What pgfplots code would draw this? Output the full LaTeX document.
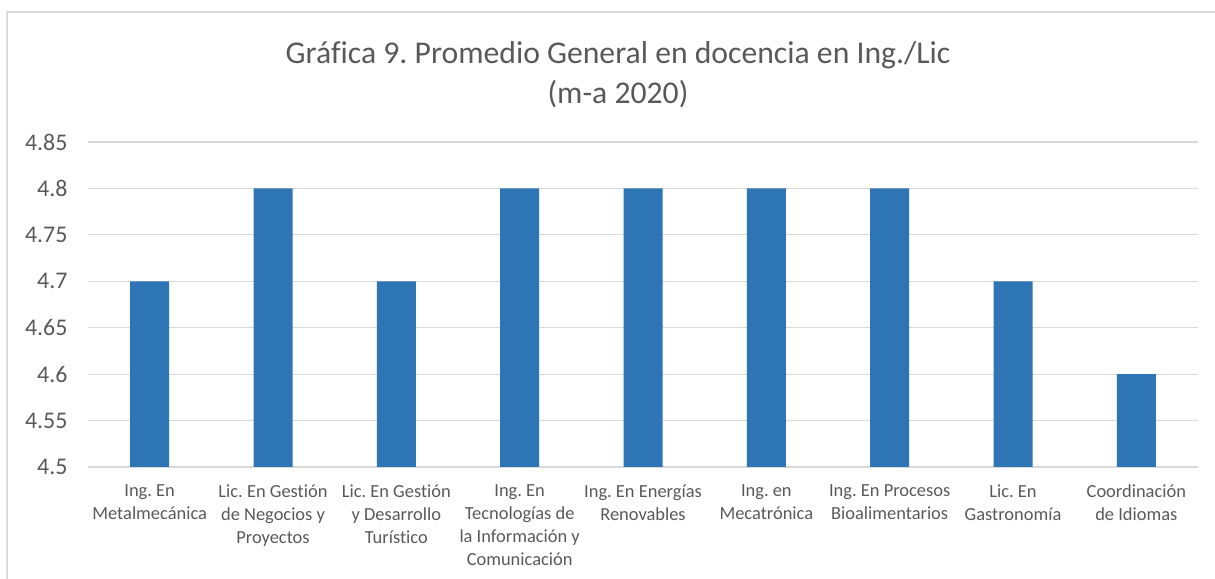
\documentclass[border=0pt]{standalone}
\usepackage{fontspec}
\setmainfont{Carlito}[Ligatures=NoCommon]
\usepackage{pgfplots}
\pgfplotsset{compat=1.18}
\definecolor{barblue}{HTML}{2E75B6}
\definecolor{txtgray}{HTML}{595959}
\definecolor{gridgray}{HTML}{D9D9D9}
\frenchspacing
\begin{document}
\begin{tikzpicture}[x=1bp,y=1bp]
\useasboundingbox (0,0) rectangle (1215,579);
\draw[gridgray, line width=1.2bp] (7,-5) -- (7,567) -- (1220,567);
\node[txtgray, font=\fontsize{31.8}{40}\selectfont, align=center] at (618,504) {Gráfica 9. Promedio General en docencia en Ing./Lic\\(m-a 2020)};
\begin{axis}[
  at={(88bp,112bp)}, anchor=south west,
  scale only axis, width=1110bp, height=325bp,
  xmin=-0.5, xmax=8.5, ymin=4.5, ymax=4.85,
  ybar, bar width=39bp,
  ytick={4.5,4.55,4.6,4.65,4.7,4.75,4.8,4.85},
  yticklabels={4.5,4.55,4.6,4.65,4.7,4.75,4.8,4.85},
  xtick=data,
  xticklabels={{Ing. En\\Metalmecánica},{Lic. En Gestión\\de Negocios y\\Proyectos},{Lic. En Gestión\\y Desarrollo\\Turístico},{Ing. En\\Tecnologías de\\la Información y\\Comunicación},{Ing. En Energías\\Renovables},{Ing. en\\Mecatrónica},{Ing. En Procesos\\Bioalimentarios},{Lic. En\\Gastronomía},{Coordinación\\de Idiomas}},
  x tick label style={align=center, font=\fontsize{18.5}{23}\selectfont, text=txtgray, yshift=-14bp},
  y tick label style={font=\fontsize{24}{26}\selectfont, text=txtgray, xshift=-17bp},
  /pgf/number format/assume math mode=true,
  axis line style={draw=none},
  ymajorgrids, grid style={gridgray, line width=1.2bp},
  major tick length=0pt,
  clip=false,
]
\addplot[fill=barblue, draw=none] coordinates {(0,4.7) (1,4.8) (2,4.7) (3,4.8) (4,4.8) (5,4.8) (6,4.8) (7,4.7) (8,4.6)};
\end{axis}
\end{tikzpicture}
\end{document}
